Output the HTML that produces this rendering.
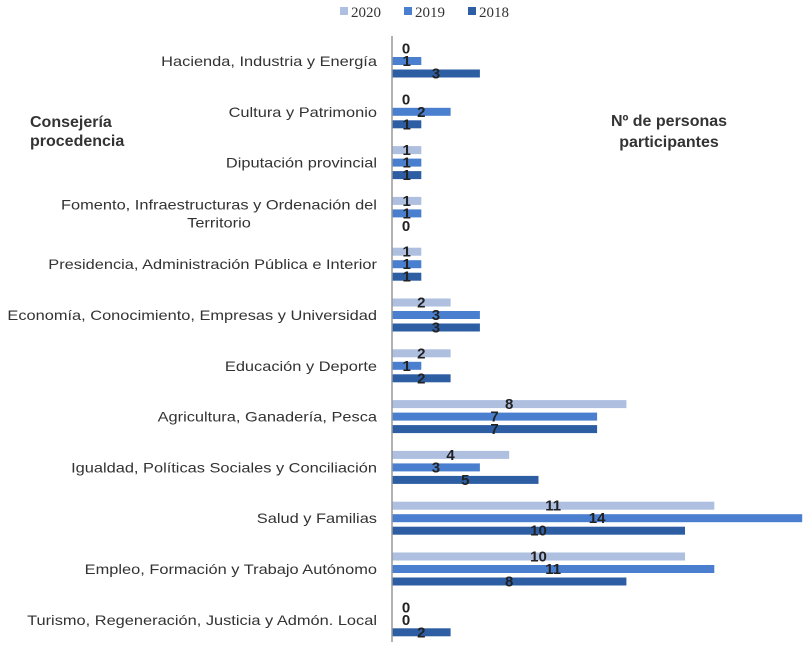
<!DOCTYPE html>
<html><head><meta charset="utf-8"><style>
body{margin:0;background:#fff;}
svg text{font-family:"Liberation Sans",sans-serif;}
</style></head><body>
<svg id="chart" width="809" height="650" xmlns="http://www.w3.org/2000/svg">
<g id="legend"></g>
<text x="30" y="127" font-size="16" font-weight="bold" fill="#333">Consejería</text>
<text x="30" y="146" font-size="16" font-weight="bold" fill="#333">procedencia</text>
<text x="669" y="126" font-size="16" font-weight="bold" fill="#333" text-anchor="middle">Nº de personas</text>
<text x="669" y="147" font-size="16" font-weight="bold" fill="#333" text-anchor="middle">participantes</text>
<g id="plot"></g>
<line x1="392" y1="36" x2="392" y2="642" stroke="#999" stroke-width="1.5"/>
</svg>
<script>
const categories = [
 ["Hacienda, Industria y Energía"],
 ["Cultura y Patrimonio"],
 ["Diputación provincial"],
 ["Fomento, Infraestructuras y Ordenación del","Territorio"],
 ["Presidencia, Administración Pública e Interior"],
 ["Economía, Conocimiento, Empresas y Universidad"],
 ["Educación y Deporte"],
 ["Agricultura, Ganadería, Pesca"],
 ["Igualdad, Políticas Sociales y Conciliación"],
 ["Salud y Familias"],
 ["Empleo, Formación y Trabajo Autónomo"],
 ["Turismo, Regeneración, Justicia y Admón. Local"]
];
const seriesNames = ["2020","2019","2018"];
const values2020 = [0,0,1,1,1,2,2,8,4,11,10,0];
const values2019 = [1,2,1,1,1,3,1,7,3,14,11,0];
const values2018 = [3,1,1,0,1,3,2,7,5,10,8,2];
const series = [values2020, values2019, values2018];
const colors = ["#aebfe0","#4a7fcf","#2d5ea4"];
const NS = "http://www.w3.org/2000/svg";
const x0 = 392, unit = 29.3;
const xScale = v => x0 + v*unit;
const yBand = i => 61 + i*50.8;
const offs = [-12.5, 0, 12.5];
const stretch = 1.17;
const plot = document.getElementById('plot');
function mk(tag, attrs, parent){const e=document.createElementNS(NS,tag);for(const k in attrs)e.setAttribute(k,attrs[k]);parent.appendChild(e);return e;}
function widen(t){const w=t.getComputedTextLength();t.setAttribute('textLength',(w*stretch).toFixed(1));t.setAttribute('lengthAdjust','spacingAndGlyphs');}
categories.forEach((lines,i)=>{
  const cy = yBand(i);
  if(lines.length===1){
    const t = mk('text',{x:377,y:cy+5,'font-size':14,fill:'#333','text-anchor':'end'},plot);
    t.textContent = lines[0];
    
    
    widen(t);
  } else {
    lines.forEach((ln,k)=>{
      const t = mk('text',{x:219,y:cy-4+k*18,'font-size':14,fill:'#333','text-anchor':'middle'},plot);
      t.textContent = ln;
      
      
      widen(t);
    });
  }
  series.forEach((vals,s)=>{
    const v = vals[i];
    const by = cy + offs[s];
    if(v>0){
      const r = mk('rect',{x:x0,y:by-4,width:xScale(v)-x0,height:8,fill:colors[s]},plot);
      
      
    }
    const lx = v>0 ? (x0+xScale(v))/2 : x0+14;
    const l = mk('text',{x:lx,y:by+5,'font-size':15,'font-weight':'bold',fill:'#222','text-anchor':'middle'},plot);
    l.textContent = v;
    
    
  });
});
const lg = document.getElementById('legend');
const lx = [340,404,468];
seriesNames.forEach((n,s)=>{
  const r = mk('rect',{x:lx[s],y:7,width:8,height:8,fill:colors[s]},lg);
  
  
  const t = mk('text',{x:lx[s]+11,y:17,'font-size':15,fill:'#333'},lg);
  t.style.fontFamily = '"Liberation Serif", serif';
  t.textContent = n;
  
  
});
</script>
</body></html>
